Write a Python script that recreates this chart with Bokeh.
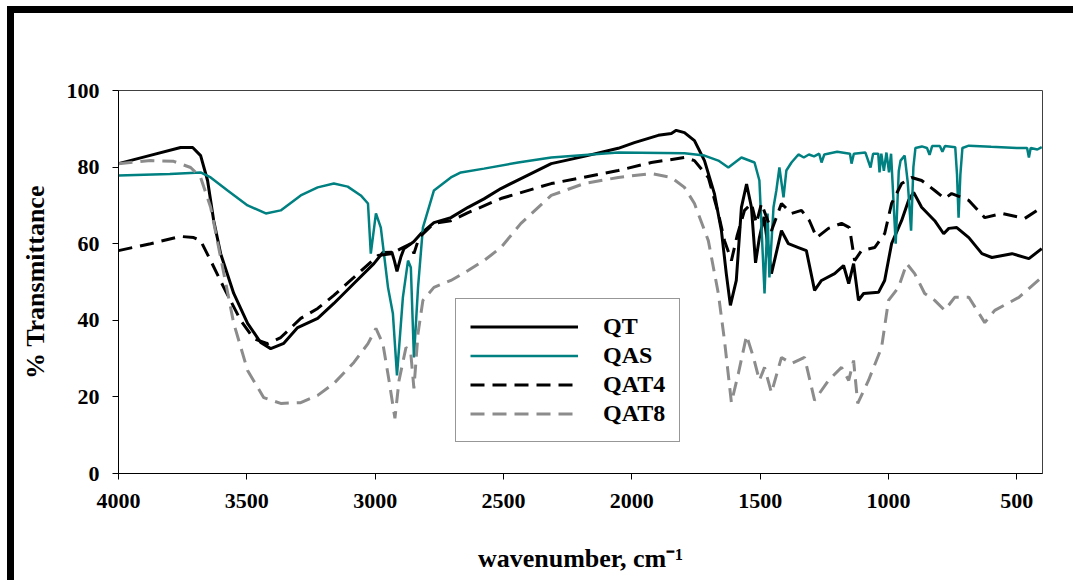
from bokeh.plotting import figure
from bokeh.models import Range1d, FixedTicker, Legend, LegendItem, Div, Spacer
from bokeh.layouts import column, row
from bokeh.embed import file_html
from bokeh.resources import INLINE

# ---- data ----
QT_WN = [4000, 3880, 3758, 3711, 3680, 3653, 3629, 3602, 3551, 3497,
         3446, 3407, 3356, 3302, 3224, 3161, 3083, 3005, 2970, 2935,
         2925, 2915, 2900, 2888, 2850, 2822, 2771, 2705, 2638, 2576,
         2510, 2432, 2314, 2186, 2053, 1990, 1897, 1846, 1827, 1795,
         1756, 1717, 1678, 1651, 1632, 1616, 1593, 1573, 1553, 1534,
         1518, 1503, 1485, 1456, 1417, 1390, 1351, 1320, 1288, 1261,
         1210, 1175, 1155, 1136, 1117, 1097, 1039, 1015, 988, 949,
         922, 902, 871, 820, 785, 765, 734, 687, 636, 597,
         519, 453, 403]
QT_T = [80.9, 83, 85.1, 85.1, 83, 76.5, 66, 57.4, 47, 39.2,
        34.2, 32.6, 34, 38.1, 40.5, 44.4, 49.6, 54.8, 57.7, 57.8,
        55.5, 52.8, 56.5, 58.7, 60.5, 62.6, 65.5, 66.8, 69.5, 71.7,
        74.4, 77, 80.9, 82.8, 84.9, 86.4, 88.3, 88.8, 89.6, 89,
        86.9, 81.7, 73, 63.4, 52.2, 43.9, 50.4, 69.5, 75.6, 69.5,
        55, 61.6, 67, 52.2, 63.4, 60, 59, 58.2, 47.8, 50.4,
        52.2, 54.3, 49.6, 54.8, 45.2, 47, 47.3, 50.4, 60, 66,
        71.3, 73.4, 69.5, 66, 62.6, 64, 64.2, 61.6, 57.4, 56.4,
        57.4, 56.1, 58.7]

QAS_WN = [4000, 3800, 3680, 3641, 3575, 3497, 3426, 3368, 3290, 3224,
          3161, 3107, 3056, 3028, 3017, 2997, 2978, 2950, 2931, 2915,
          2892, 2872, 2861, 2849, 2833, 2814, 2771, 2705, 2666, 2576,
          2443, 2314, 2053, 1795, 1717, 1663, 1624, 1573, 1522, 1503,
          1483, 1471, 1464, 1448, 1437, 1425, 1409, 1398, 1378, 1351,
          1330, 1310, 1290, 1270, 1261, 1250, 1200, 1150, 1144, 1135,
          1090, 1070, 1060, 1040, 1035, 1028, 1018, 1008, 998, 990,
          972, 960, 953, 937, 925, 912, 903, 895, 870, 850,
          840, 830, 800, 790, 780, 740, 733, 727, 720, 712,
          687, 600, 500, 460, 453, 446, 420, 403]
QAS_T = [77.8, 78.2, 78.6, 77.3, 73.9, 70, 67.9, 68.7, 72.6, 74.7,
         75.7, 74.9, 72.6, 70.5, 57.4, 67.9, 64.2, 48.6, 41.8, 25.6,
         46, 55.6, 53.8, 30.3, 48.6, 64.2, 73.9, 77.3, 78.6, 79.6,
         81.2, 82.5, 83.8, 83.6, 83, 81.7, 79.9, 82.5, 81.2, 76.5,
         47, 67.9, 51.2, 69.5, 73.9, 79.9, 72.1, 79.1, 81.2, 83.3,
         82.5, 83.3, 82.8, 83.5, 81.2, 83.3, 84, 83.5, 80.9, 83.5,
         83.8, 79.9, 83.5, 83.5, 78.6, 83.5, 79, 83.8, 78.6, 83.5,
         60, 79, 81.7, 83, 76, 63.4, 80, 85, 85.4, 85,
         83.2, 85.5, 85.5, 84, 85.5, 85.2, 78, 66.8, 78, 85,
         85.6, 85.3, 85, 85, 82.5, 85, 84.6, 85.2]

QAT4_WN = [4000, 3875, 3758, 3707, 3680, 3641, 3590, 3524, 3473, 3419,
           3368, 3290, 3224, 3161, 3083, 2989, 2939, 2900, 2861, 2849,
           2829, 2771, 2705, 2638, 2510, 2314, 2053, 1924, 1795, 1756,
           1702, 1663, 1639, 1612, 1590, 1561, 1534, 1515, 1495, 1456,
           1417, 1378, 1339, 1308, 1280, 1234, 1183, 1152, 1132, 1105,
           1054, 1015, 988, 949, 910, 871, 820, 781, 754, 687,
           625, 559, 469, 403]
QAT4_T = [58.2, 60, 61.9, 61.6, 60.8, 55.6, 48.6, 40, 35.2, 33.9,
          35.5, 40.5, 43.1, 46.5, 51.2, 56.9, 57.4, 58.7, 60, 57.4,
          61.6, 65.3, 66, 68.1, 71.8, 75.7, 79.1, 81.2, 82.5, 81.7,
          77.3, 67.9, 60.8, 55.6, 62, 68.7, 70.5, 65.3, 70.5, 63.4,
          70.5, 67.9, 68.7, 66, 61.6, 64, 65.3, 64.2, 55.6, 58.2,
          59, 62.6, 70.5, 75.7, 77.3, 76.5, 73.9, 71.8, 73.1, 71.3,
          66.8, 67.9, 66.6, 69.5]

QAT8_WN = [4000, 3875, 3785, 3719, 3680, 3641, 3602, 3551, 3497, 3434,
           3368, 3290, 3224, 3161, 3083, 3028, 2997, 2970, 2946, 2923,
           2907, 2880, 2862, 2849, 2833, 2814, 2771, 2705, 2638, 2576,
           2510, 2432, 2314, 2186, 2053, 1924, 1846, 1795, 1756, 1702,
           1663, 1639, 1612, 1585, 1553, 1526, 1503, 1483, 1456, 1417,
           1378, 1327, 1288, 1234, 1183, 1155, 1136, 1120, 1078, 1027,
           1000, 961, 929, 898, 859, 820, 781, 742, 687, 625,
           586, 492, 403]
QAT8_T = [80.9, 81.7, 81.5, 79.9, 77.3, 69.5, 56.4, 39.2, 26.9, 19.8,
          18.3, 18.5, 20.4, 23.5, 29, 33.9, 37.9, 33.9, 24.3, 14.4,
          24.3, 32.9, 32, 22.2, 36.6, 45.2, 48.6, 50.4, 53, 55.6,
          59, 65.3, 72.6, 75.7, 77.3, 78.3, 77.3, 74.7, 70.5, 60.8,
          47, 34.7, 18.5, 26.1, 36, 30.3, 24.3, 27.7, 21.1, 30.3,
          28.7, 30.3, 19.1, 24.3, 27.7, 24.3, 29.5, 18.3, 24.3, 32.9,
          45.2, 48.6, 54.8, 52.2, 47, 45.2, 42.6, 46, 46, 39.4,
          42.6, 46, 51.2]

SERIES = ["QT", "QAS", "QAT4", "QAT8"]
X_TICKS = [4000, 3500, 3000, 2500, 2000, 1500, 1000, 500]
Y_TICKS = [0, 20, 40, 60, 80, 100]
X_TITLE = "wavenumber, cm\u207b\u00b9"
Y_TITLE = "% Transmittance"

FONT = "Liberation Serif"

p = figure(width=1057, height=567, output_backend="svg", toolbar_location=None,
           x_range=Range1d(4000, 400), y_range=Range1d(0, 100),
           min_border_left=104, min_border_right=29, min_border_top=77,
           min_border_bottom=107, margin=0)
p.background_fill_color = "white"
p.border_fill_color = "white"
p.outline_line_color = "#404040"
p.outline_line_width = 1
p.xgrid.visible = False
p.ygrid.visible = False

for ax in (p.xaxis[0], p.yaxis[0]):
    ax.axis_line_color = "black"
    ax.major_tick_line_color = "black"
    ax.major_tick_in = 0
    ax.major_tick_out = 6
    ax.minor_tick_line_color = None
    ax.major_label_text_font = FONT
    ax.major_label_text_font_style = "bold"
    ax.major_label_text_font_size = "22px"
    ax.major_label_text_color = "black"
    ax.axis_label_text_font = FONT
    ax.axis_label_text_font_style = "bold"
    ax.axis_label_text_color = "black"

p.xaxis.ticker = FixedTicker(ticks=X_TICKS)
p.yaxis.ticker = FixedTicker(ticks=Y_TICKS)
p.xaxis.major_label_standoff = 14
p.yaxis.major_label_standoff = 13

p.yaxis.axis_label = Y_TITLE
p.yaxis.axis_label_text_font_size = "26px"
p.yaxis.axis_label_standoff = 14

p.xaxis.axis_label = X_TITLE
p.xaxis.axis_label_text_font_size = "26px"
p.xaxis.axis_label_standoff = 33

r_qt = p.line(QT_WN, QT_T, line_color="black", line_width=3)
r_qas = p.line(QAS_WN, QAS_T, line_color="#008080", line_width=2.5)
r_qat4 = p.line(QAT4_WN, QAT4_T, line_color="black", line_width=3, line_dash="14 8")
r_qat8 = p.line(QAT8_WN, QAT8_T, line_color="#8c8c8c", line_width=3, line_dash="14 8")

legend = Legend(items=[LegendItem(label=SERIES[0], renderers=[r_qt]),
                       LegendItem(label=SERIES[1], renderers=[r_qas]),
                       LegendItem(label=SERIES[2], renderers=[r_qat4]),
                       LegendItem(label=SERIES[3], renderers=[r_qat8])],
                location=(337, 31))
legend.label_text_font = FONT
legend.label_text_font_style = "bold"
legend.label_text_font_size = "24px"
legend.label_text_color = "black"
legend.glyph_width = 108
legend.glyph_height = 27
legend.label_height = 27
legend.label_standoff = 25
legend.padding = 14
legend.spacing = 2
legend.margin = 0
legend.border_line_color = "#303030"
legend.border_line_width = 1
legend.background_fill_color = "white"
legend.background_fill_alpha = 1
p.add_layout(legend, "center")

# thick black frame bars (top and left) of the original picture
top_bar = Div(text="", width=1066, height=7, margin=0,
              styles={"background-color": "black"})
left_bar = Div(text="", width=7, height=567, margin=0,
               styles={"background-color": "black"})

layout = column(
    Spacer(height=6, width=10, margin=0),
    row(Spacer(width=7, height=7, margin=0), top_bar, margin=0),
    row(Spacer(width=7, height=10, margin=0), left_bar, p, margin=0),
    margin=0,
)

open("out.html", "w").write(file_html(layout, INLINE))
